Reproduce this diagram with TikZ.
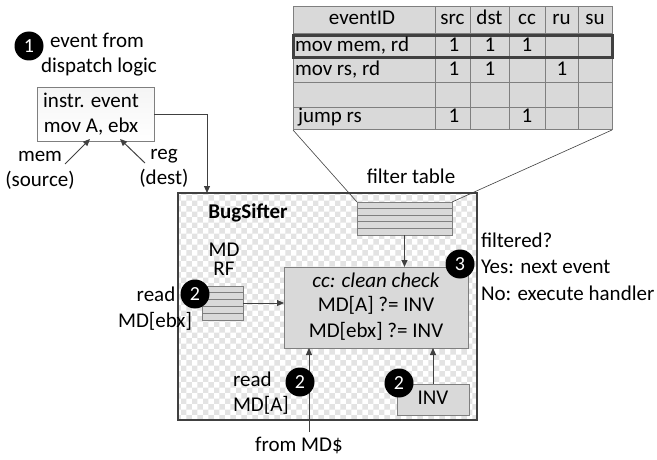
\documentclass[tikz,border=0pt]{standalone}
\usepackage{fontspec}
\setmainfont{Carlito}
\usetikzlibrary{patterns,arrows.meta,calc}
\definecolor{ln}{HTML}{404040}
\definecolor{bx}{HTML}{D9D9D9}
\definecolor{gl}{HTML}{7F7F7F}
\begin{document}
\begin{tikzpicture}[x=1pt,y=-1pt,
  every node/.style={inner sep=0pt, outer sep=0pt},
  lbl/.style={font=\fontsize{21}{24}\selectfont, text height=13pt, text depth=4pt},
  arr/.style={draw=ln, line width=1pt, -{Triangle[length=7pt,width=6pt]}},
  thin/.style={draw=ln, line width=0.6pt},
  badge/.style={circle, fill=black, text=white, minimum size=29pt, font=\fontsize{20}{22}\selectfont},
  graybox/.style={draw=gl, fill=bx, line width=1pt},
  grid/.style={draw=gl, line width=0.8pt},
]
\useasboundingbox (0,0) rectangle (657,460);

% ---------- filter table (top right) ----------
\node[graybox, minimum width=319pt, minimum height=123pt] (tbl) at (452.5,68.5) {};
\foreach \x in {435,470,509,545,578} \draw[grid] (\x,7) -- (\x,130);
\foreach \y in {33,58,82,107} \draw[grid] (293,\y) -- (612,\y);
\draw[draw=ln, line width=3pt] (293,36) rectangle (612,57.5);
\node[lbl] (h0) at (362,20) {eventID};
\node[lbl] (h1) at (452.5,20) {src};
\node[lbl] (h2) at (489.5,20) {dst};
\node[lbl] (h3) at (527,20) {cc};
\node[lbl] (h4) at (561.5,20) {ru};
\node[lbl] (h5) at (595,20) {su};
\node[lbl, anchor=west] (r1) at (295,47) {mov mem, rd};
\node[lbl] (r1a) at (454,47) {1};
\node[lbl] (r1b) at (490,47) {1};
\node[lbl] (r1c) at (527,47) {1};
\node[lbl, anchor=west] (r2) at (295,71) {mov rs, rd};
\node[lbl] (r2a) at (454,71) {1};
\node[lbl] (r2b) at (490,71) {1};
\node[lbl] (r2d) at (562,71) {1};
\node[lbl, anchor=west] (r4) at (298,118) {jump rs};
\node[lbl] (r4a) at (454,118) {1};
\node[lbl] (r4c) at (527,118) {1};

% ---------- left: event ----------
\node[badge] (b1) at (29,46) {1};
\node[lbl, anchor=west] (t1) at (50,43) {event from};
\node[lbl] (t2) at (99,68) {dispatch logic};
\node[draw=gl, line width=1pt, top color=gray!8, bottom color=white, minimum width=117pt, minimum height=54pt] (ie) at (95.5,115) {};
\node[lbl] (ie1) at (91,103) {instr. event};
\node[lbl] (ie2) at (91,128) {mov A, ebx};
\node[lbl] (mem) at (40,157) {mem};
\node[lbl] (src) at (40,182) {(source)};
\node[lbl] (reg) at (164,155) {reg};
\node[lbl] (dst) at (164,180) {(dest)};
\coordinate (memt) at (65,164);
\coordinate (memh) at (90,139);
\coordinate (regt) at (145,163);
\coordinate (regh) at (120,139);
\draw[arr] (memt) -- (memh);
\draw[arr] (regt) -- (regh);

% ---------- BugSifter box ----------
\node[minimum width=299pt, minimum height=227pt, draw=ln, line width=1.5pt,
      preaction={fill=white}, pattern=checkerboard, pattern color=gray!22] (bs) at (327.5,306.5) {};
\coordinate (bsin) at (207,193);
\draw[arr] (ie.east) -| (bsin);
\node[lbl, font=\fontsize{21}{24}\selectfont\bfseries] (bsl) at (248,214) {BugSifter};

% filter table small
\node[graybox, minimum width=95pt, minimum height=33pt] (ft) at (404.5,218.5) {};
\foreach \k in {1,2,3,4} \draw[grid] ($(ft.north west)+(0,6.6*\k)$) -- ($(ft.north east)+(0,6.6*\k)$);
\node[lbl] (ftl) at (411,179) {filter table};
\draw[thin] (tbl.south west) -- (ft.north west);
\draw[thin] (tbl.south east) -- (ft.north east);

% clean check
\node[graybox, minimum width=184pt, minimum height=81pt] (cc) at (376,307.5) {};
\node[lbl, font=\fontsize{21}{24}\selectfont\itshape] (cc1) at (376,283) {cc: clean check};
\node[lbl] (cc2) at (376,307) {MD[A] ?= INV};
\node[lbl] (cc3) at (376,333) {MD[ebx] ?= INV};
\draw[arr] (ft.south) -- (ft.south |- cc.north);
\node[badge] (b3) at (460,264) {3};
\node[lbl, anchor=west] (f1) at (481,243) {filtered?};
\node[lbl, anchor=west] (f2) at (481,269) {Yes: next event};
\node[lbl, anchor=west] (f3) at (481,296) {No: execute handler};

% MD RF
\node[lbl] (mdl1) at (224,252) {MD};
\node[lbl] (mdl2) at (224,271) {RF};
\node[lbl] (rd1) at (156,297) {read};
\node[lbl] (rd2) at (155,323) {MD[ebx]};
\node[graybox, minimum width=41pt, minimum height=34pt] (md) at (222.5,303) {};
\foreach \k in {1,2,3,4} \draw[grid] ($(md.north west)+(0,6.8*\k)$) -- ($(md.north east)+(0,6.8*\k)$);
\node[badge] (b2a) at (195,294) {2};
\draw[arr] (md.east) -- (md.east -| cc.west);

% bottom read
\coordinate (fromc) at (309,432);
\node[lbl] (fromt) at (299,447) {from MD\$};
\draw[arr] (fromc) -- (fromc |- cc.south);
\node[lbl, anchor=west] (rb1) at (233,382) {read};
\node[lbl, anchor=west] (rb2) at (233,407) {MD[A]};
\node[badge] (b2b) at (300,382) {2};

% INV
\node[graybox, minimum width=72pt, minimum height=31pt] (inv) at (433,399.5) {};
\node[lbl] (invt) at (433,400) {INV};
\node[badge] (b2c) at (399,383) {2};
\draw[arr] (inv.north) -- (inv.north |- cc.south);
\end{tikzpicture}
\end{document}
